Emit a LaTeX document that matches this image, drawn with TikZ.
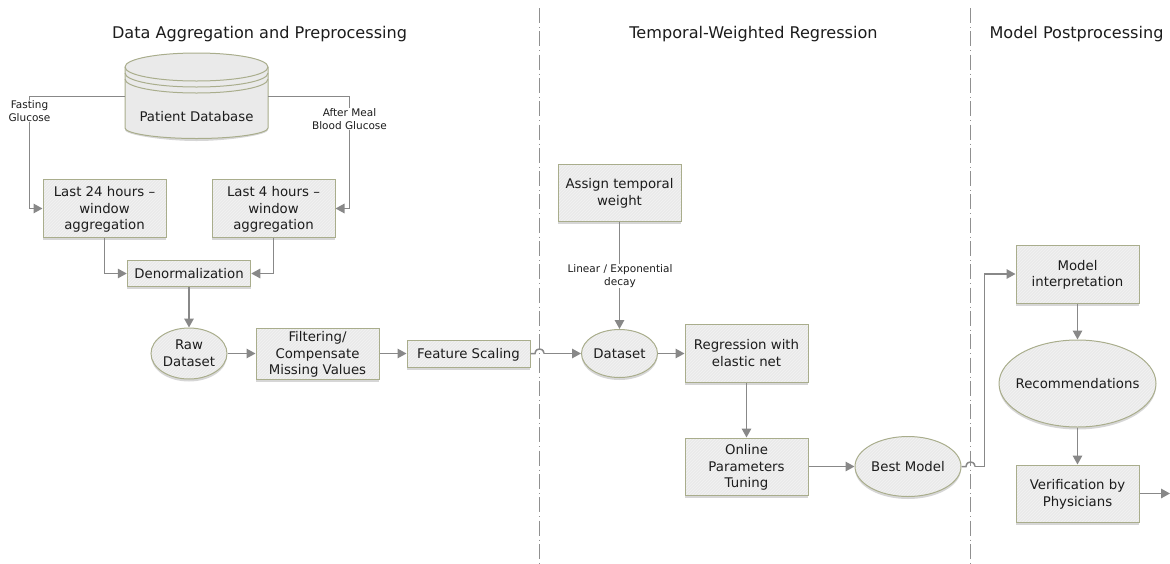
\documentclass[tikz,border=0pt]{standalone}
\usepackage{fontspec}
\setmainfont{DejaVu Sans}
\usetikzlibrary{arrows.meta,shadows,patterns,calc,shapes.geometric}
\definecolor{edgeC}{HTML}{A9AD8C}
\definecolor{fillC}{HTML}{EAEAEA}
\definecolor{hatchC}{HTML}{F3F3F3}
\definecolor{lineC}{HTML}{888888}
\definecolor{divC}{HTML}{909090}
\definecolor{txtC}{HTML}{1C1C1C}
\newcommand{\tl}[1]{\makebox[0pt]{\raisebox{-4.6pt}[0pt][0pt]{#1}}}
\tikzset{
  x=1pt,y=-1pt,
  shape base/.style={draw=edgeC,line width=1pt,pattern=north east lines,pattern color=hatchC,text=txtC,align=center,inner sep=0pt,
    font=\fontsize{13.3}{16.5}\selectfont,
    drop shadow={shadow xshift=0pt,shadow yshift=-2.5pt,fill=black,opacity=.16},
    preaction={fill=fillC}},
  pbox/.style={shape base,rectangle,minimum width=123pt},
  pell/.style={shape base,ellipse},
  flow/.style={draw=lineC,line width=1.5pt,-{Triangle[length=9pt,width=9.5pt]}},
  plain/.style={draw=lineC,line width=1.5pt},
  lbl/.style={fill=white,text=txtC,align=center,inner sep=1pt,font=\fontsize{10.5}{12.8}\selectfont},
  title/.style={text=txtC,inner sep=0pt,font=\fontsize{16.1}{16}\selectfont},
  divider/.style={draw=divC,line width=0.8pt,dash pattern=on 15pt off 4pt on 1pt off 3.3pt},
}
\begin{document}
\begin{tikzpicture}
\useasboundingbox (0,0) rectangle (1170,563);
% dividers
\coordinate (d1t) at (539.5,8); \coordinate (d1b) at (539.5,563);
\coordinate (d2t) at (970.5,8); \coordinate (d2b) at (970.5,563);
\draw[divider] (d1t) -- (d1b);
\draw[divider] (d2t) -- (d2b);
% titles
\node[title] (t1) at (259.5,34.5) {Data Aggregation and Preprocessing};
\node[title] (t2) at (753.5,34.5) {Temporal-Weighted Regression};
\node[title] (t3) at (1076.5,34.5) {Model Postprocessing};
% database
\fill[black,opacity=.16] (125,69) -- (125,130) .. controls (125,135) and (165,141) .. (196.5,141) .. controls (228,141) and (268,135) .. (268,130) -- (268,69) -- cycle;
\draw[draw=edgeC,line width=1pt,fill=fillC] (125,67) -- (125,128) .. controls (125,133.5) and (157,138.5) .. (196.5,138.5) .. controls (236,138.5) and (268,133.5) .. (268,128) -- (268,67) .. controls (268,59) and (236,53) .. (196.5,53) .. controls (157,53) and (125,59) .. (125,67) -- cycle;
\foreach \d in {0,6,12}{
  \draw[edgeC,line width=1pt] (125,67+\d) .. controls (125,75+\d) and (157,81+\d) .. (196.5,81+\d) .. controls (236,81+\d) and (268,75+\d) .. (268,67+\d);
}
\node[text=txtC,inner sep=0pt,minimum width=143pt,minimum height=24pt,font=\fontsize{13.3}{16.5}\selectfont] (db) at (196.5,117) {\tl{Patient Database}};
\coordinate (dbL) at (125,96.5); \coordinate (dbR) at (268,96.5);
% boxes
\node[pbox,minimum height=58pt] (w24) at (104.5,208.5) {\tl{Last 24 hours –}\\\tl{window}\\\tl{aggregation}};
\node[pbox,minimum height=58pt] (w4) at (273.5,208.5) {\tl{Last 4 hours –}\\\tl{window}\\\tl{aggregation}};
\node[pbox,minimum width=123.5pt,minimum height=26.5pt] (den) at (189,273.5) {\tl{Denormalization}};
\node[pell,minimum width=76pt,minimum height=51pt] (raw) at (189,353.5) {\tl{Raw}\\\tl{Dataset}};
\node[pbox,minimum height=51pt] (flt) at (317.5,353.5) {\tl{Filtering/}\\\tl{Compensate}\\\tl{Missing Values}};
\node[pbox,minimum height=27pt] (fs) at (468.5,353.5) {\tl{Feature Scaling}};
\node[pbox,minimum height=57pt] (tw) at (619.5,192.5) {\tl{Assign temporal}\\\tl{weight}};
\node[pell,minimum width=76pt,minimum height=48pt] (ds) at (619.5,353.5) {\tl{Dataset}};
\node[pbox,minimum height=58pt] (reg) at (746.5,353.5) {\tl{Regression with}\\\tl{elastic net}};
\node[pbox,minimum height=57pt] (tun) at (746.5,466.5) {\tl{Online}\\\tl{Parameters}\\\tl{Tuning}};
\node[pell,minimum width=106pt,minimum height=60pt] (best) at (908,466.5) {\tl{Best Model}};
\node[pbox,minimum height=58pt] (mi) at (1077.5,274) {\tl{Model}\\\tl{interpretation}};
\node[pell,minimum width=157pt,minimum height=87pt] (rec) at (1077.5,383.5) {\tl{Recommendations}};
\node[pbox,minimum height=57pt] (ver) at (1077.5,493.5) {\tl{Verification by}\\\tl{Physicians}};
% connectors
\coordinate (a1) at (29.5,96.5); \coordinate (a2) at (349.5,96.5);
\draw[flow] (dbL) -- (a1) |- (w24.west);
\draw[flow] (dbR) -- (a2) |- (w4.east);
\node[lbl] (lf) at (29.5,111) {Fasting\\Glucose};
\node[lbl] (la) at (349.5,119) {After Meal\\Blood Glucose};
\draw[flow] (w24.south) |- (den.west);
\draw[flow] (w4.south) |- (den.east);
\draw[flow] (den.south) -- (raw.north);
\draw[flow] (raw.east) -- (flt.west);
\draw[flow] (flt.east) -- (fs.west);
% jump over first divider
\coordinate (j1a) at (535,353.5); \coordinate (j1b) at (544,353.5);
\draw[plain] (fs.east) -- (j1a) .. controls (535.5,349.5) and (538,349) .. (539.5,349) .. controls (541,349) and (543.5,349.5) .. (j1b);
\draw[flow] (j1b) -- (ds.west);
\draw[flow] (tw.south) -- (ds.north);
\node[lbl] (ld) at (620,276) {Linear / Exponential\\decay};
\draw[flow] (ds.east) -- (reg.west);
\draw[flow] (reg.south) -- (tun.north);
\draw[flow] (tun.east) -- (best.west);
% jump over second divider
\coordinate (j2a) at (966,466.5); \coordinate (j2b) at (975,466.5); \coordinate (j2c) at (984.5,466.5); \coordinate (j2d) at (984.5,274);
\draw[plain] (best.east) -- (j2a) .. controls (966.5,462.5) and (969,462) .. (970.5,462) .. controls (972,462) and (974.5,462.5) .. (j2b);
\draw[flow] (j2b) -- (j2c) -- (j2d) -- (mi.west);
\draw[flow] (mi.south) -- (rec.north);
\draw[flow] (rec.south) -- (ver.north);
\coordinate (out) at (1170,493.5);
\draw[flow] (ver.east) -- (out);
\end{tikzpicture}
\end{document}
